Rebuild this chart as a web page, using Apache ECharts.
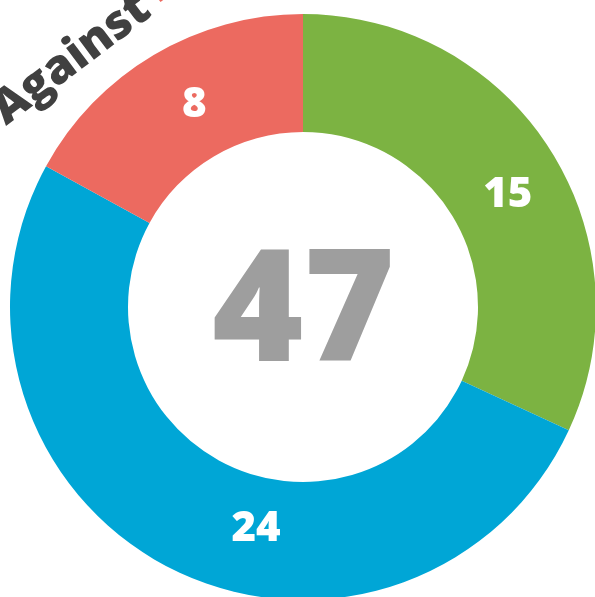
<!DOCTYPE html>
<html>
<head>
<meta charset="utf-8">
<script src="https://cdn.jsdelivr.net/npm/echarts@6/dist/echarts.min.js"></script>
<style>
  html, body { margin: 0; padding: 0; background: #fff; }
  #chart { width: 595px; height: 597px; }
</style>
</head>
<body>
<div id="chart"></div>
<script>
const categories = ["For", "Neutral", "Against"];
const values = [15, 24, 8];
const colors = ["#7cb342", "#00a6d6", "#ec6a60"];
const totalLabel = "47";
const titleText = "Against";

// label nudges so the numbers sit where the original has them
const labelOffsets = [[5, 16], [60, 11], [12, 2]];

const chart = echarts.init(document.getElementById("chart"));

chart.setOption({
  animation: false,
  graphic: [
    {
      type: "text",
      x: 303.5,
      y: 317,
      style: {
        text: totalLabel,
        fill: "#9e9e9e",
        fontFamily: "Open Sans",
        fontWeight: 800,
        fontSize: 156,
        align: "center",
        verticalAlign: "middle"
      }
    },
    {
      type: "group",
      x: 12,
      y: 134,
      rotation: 37 * Math.PI / 180,
      children: [
        {
          type: "text",
          style: {
            x: 0,
            y: 0,
            text: titleText,
            fill: "#404040",
            fontFamily: "Open Sans",
            fontWeight: 800,
            fontSize: 47,
            align: "left",
            verticalAlign: "bottom"
          }
        },
        {
          type: "rect",
          shape: { x: 198, y: -70, width: 60, height: 54 },
          style: { fill: "#ec6a60" }
        }
      ]
    }
  ],
  series: [
    {
      type: "pie",
      center: [303, 307],
      radius: [175, 293],
      startAngle: 90,
      clockwise: true,
      avoidLabelOverlap: false,
      silent: true,
      label: {
        show: true,
        position: "inside",
        formatter: "{c}",
        color: "#fff",
        fontSize: 42,
        fontWeight: 800,
        fontFamily: "Open Sans"
      },
      labelLine: { show: false },
      itemStyle: { borderWidth: 0 },
      data: categories.map((name, i) => ({
        name,
        value: values[i],
        itemStyle: { color: colors[i] },
        label: { offset: labelOffsets[i] }
      }))
    }
  ]
});
</script>
</body>
</html>
